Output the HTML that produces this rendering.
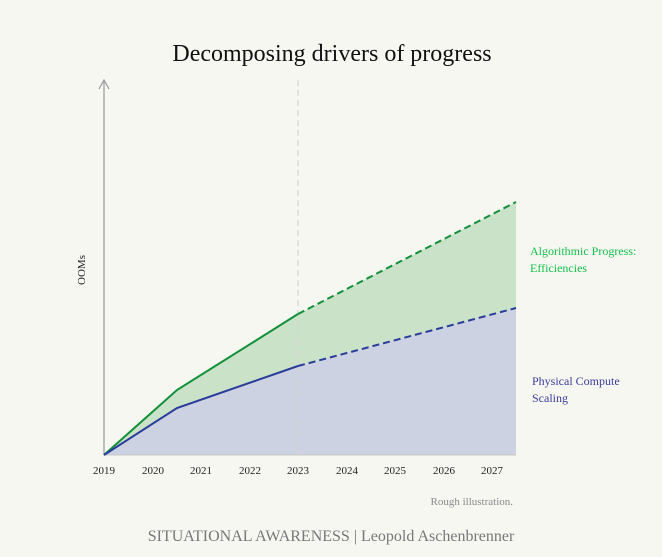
<!DOCTYPE html>
<html><head><meta charset="utf-8"><style>
html,body{margin:0;padding:0;background:#f7f7f2;}
svg{display:block;font-family:"Liberation Serif",serif;}
</style></head><body>
<svg width="662" height="557" viewBox="0 0 662 557" xmlns="http://www.w3.org/2000/svg">
<rect width="662" height="557" fill="#f7f7f2"/>
<text x="332" y="61" text-anchor="middle" font-size="24" fill="#111">Decomposing drivers of progress</text>
<polygon points="104,455 177,390 298,314 516,202 516,455" fill="#c9e2c8"/>
<polygon points="104,455 177,408 298,366 516,308 516,455" fill="#cdd2e3"/>
<line x1="298" y1="80" x2="298" y2="455" stroke="#d4d4d4" stroke-width="1.2" stroke-dasharray="6,4"/>
<line x1="104" y1="80" x2="104" y2="455" stroke="#999" stroke-width="1.2"/>
<polyline points="99,89 104,80 109,89" fill="none" stroke="#999" stroke-width="1.2"/>
<line x1="104" y1="455" x2="516" y2="455" stroke="#c8c8c8" stroke-width="1"/>
<polyline points="104,455 177,390 298,314" fill="none" stroke="#12903a" stroke-width="2"/>
<line x1="298" y1="314" x2="516" y2="202" stroke="#12903a" stroke-width="2" stroke-dasharray="7,4"/>
<polyline points="104,455 177,408 298,366" fill="none" stroke="#2a3c9a" stroke-width="2"/>
<line x1="298" y1="366" x2="516" y2="308" stroke="#2a3c9a" stroke-width="2" stroke-dasharray="7,4"/>
<g font-size="11" fill="#222" text-anchor="middle">
<text x="104" y="474">2019</text><text x="153" y="474">2020</text><text x="201" y="474">2021</text>
<text x="250" y="474">2022</text><text x="298" y="474">2023</text><text x="347" y="474">2024</text>
<text x="395" y="474">2025</text><text x="444" y="474">2026</text><text x="492" y="474">2027</text>
</g>
<text transform="translate(85,270) rotate(-90)" text-anchor="middle" font-size="11" fill="#222">OOMs</text>
<text x="530" y="255" font-size="12" fill="#14c04a">Algorithmic Progress:</text>
<text x="530" y="272" font-size="12" fill="#14c04a">Efficiencies</text>
<text x="532" y="385" font-size="12" fill="#3b3b9a">Physical Compute</text>
<text x="532" y="402" font-size="12" fill="#3b3b9a">Scaling</text>
<text x="513" y="505" text-anchor="end" font-size="11" fill="#888">Rough illustration.</text>
<text x="331" y="541" text-anchor="middle" font-size="16" fill="#777">SITUATIONAL AWARENESS | Leopold Aschenbrenner</text>
</svg>
</body></html>
